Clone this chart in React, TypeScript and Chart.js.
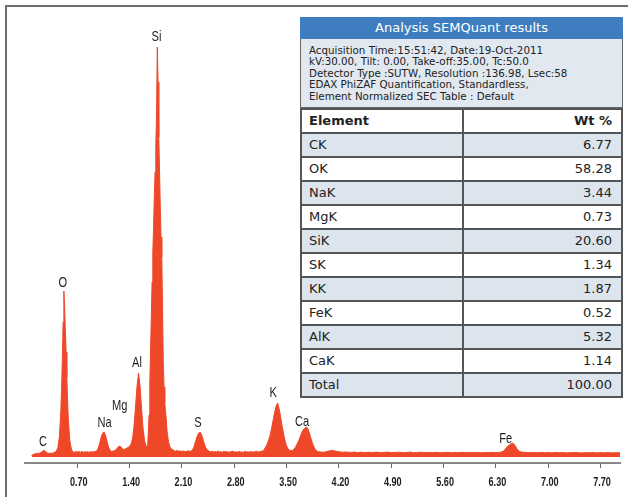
import React, { useEffect, useRef } from 'react';
import { Chart, registerables } from 'chart.js';

Chart.register(...registerables);

// Spectrum: [energy keV, counts]
const SPECTRUM: [number, number][] = [
  [0.09, 10], [0.10, 22], [0.12, 28], [0.14, 34], [0.16, 38], [0.18, 33], [0.20, 42], [0.22, 48], [0.24, 62], [0.26, 66],
  [0.28, 52], [0.30, 40], [0.32, 36], [0.34, 40], [0.36, 35], [0.38, 42], [0.40, 48],
  [0.42, 60], [0.44, 95], [0.46, 200], [0.48, 470], [0.49, 700], [0.50, 1000], [0.51, 1350], [0.52, 1660], [0.53, 1500],
  [0.54, 1250], [0.55, 1050], [0.56, 800], [0.57, 560], [0.58, 370], [0.60, 160], [0.62, 80], [0.64, 52],
  [0.66, 45], [0.67, 52], [0.68, 55], [0.70, 48], [0.71, 56], [0.72, 53], [0.74, 45], [0.75, 51], [0.76, 56], [0.78, 50],
  [0.79, 46], [0.80, 55], [0.82, 47], [0.83, 54], [0.84, 52], [0.86, 46], [0.87, 51], [0.88, 55], [0.90, 50], [0.92, 53],
  [0.94, 55], [0.96, 62], [0.98, 90], [1.00, 140], [1.02, 200], [1.04, 240], [1.06, 250], [1.08, 210], [1.10, 150],
  [1.12, 95], [1.14, 66],
  [1.16, 56], [1.18, 60], [1.20, 64], [1.22, 76], [1.24, 95], [1.26, 110], [1.28, 104], [1.30, 86], [1.32, 74], [1.34, 80],
  [1.36, 88],
  [1.38, 95], [1.40, 110], [1.42, 130], [1.44, 190], [1.46, 320], [1.48, 520], [1.50, 720], [1.52, 840], [1.54, 700],
  [1.56, 480], [1.58, 280], [1.60, 160], [1.62, 110], [1.64, 100],
  [1.65, 250], [1.66, 420], [1.67, 750], [1.68, 1080], [1.69, 1400], [1.70, 1750], [1.71, 2050], [1.72, 2300], [1.73, 2600],
  [1.74, 2850], [1.75, 3100], [1.76, 3450], [1.77, 4100], [1.78, 3750], [1.79, 3200], [1.80, 2850], [1.81, 2500],
  [1.82, 2200], [1.83, 2000], [1.84, 1500], [1.85, 950], [1.86, 700], [1.87, 550], [1.88, 450], [1.89, 380], [1.90, 260],
  [1.92, 150], [1.94, 100], [1.96, 80],
  [1.98, 70], [2.00, 65], [2.01, 58], [2.02, 60], [2.04, 66], [2.05, 59], [2.06, 58], [2.08, 62], [2.09, 54], [2.10, 55],
  [2.12, 61], [2.13, 55], [2.14, 57], [2.16, 55], [2.17, 60], [2.18, 62], [2.20, 58],
  [2.22, 58], [2.24, 70], [2.26, 100], [2.28, 150], [2.30, 200], [2.32, 235], [2.34, 250], [2.36, 230], [2.38, 180],
  [2.40, 130], [2.42, 90], [2.44, 70], [2.46, 60],
  [2.48, 52], [2.50, 57], [2.52, 50], [2.54, 54], [2.56, 49], [2.58, 60], [2.60, 53], [2.62, 52], [2.64, 47], [2.66, 58],
  [2.68, 51], [2.70, 54], [2.72, 48], [2.74, 50], [2.76, 55], [2.78, 57], [2.80, 49], [2.82, 52], [2.84, 47], [2.86, 55],
  [2.88, 51], [2.90, 50], [2.92, 46], [2.94, 57], [2.96, 50], [2.98, 52], [3.00, 48], [3.02, 55], [3.04, 51], [3.06, 50],
  [3.08, 56], [3.10, 56], [3.12, 50], [3.14, 53], [3.16, 58], [3.18, 60],
  [3.20, 75], [3.22, 100], [3.24, 130], [3.26, 170], [3.28, 220], [3.30, 290], [3.32, 370], [3.34, 450], [3.36, 510],
  [3.38, 540], [3.40, 480], [3.42, 400], [3.44, 310], [3.46, 230], [3.48, 160], [3.50, 110], [3.52, 80], [3.54, 68],
  [3.56, 64],
  [3.58, 66], [3.60, 80], [3.62, 100], [3.64, 130], [3.66, 160], [3.68, 200], [3.70, 240], [3.72, 270], [3.74, 285],
  [3.76, 300], [3.78, 290], [3.80, 250], [3.82, 200], [3.84, 150], [3.86, 110], [3.88, 80], [3.90, 62], [3.92, 52],
  [3.96, 50], [4.00, 48], [4.04, 55], [4.08, 62], [4.12, 66], [4.16, 58], [4.20, 52], [4.25, 48], [4.30, 50], [4.35, 46],
  [4.40, 49], [4.45, 45], [4.50, 48], [4.55, 44], [4.60, 48], [4.65, 45], [4.70, 49], [4.75, 44], [4.80, 46], [4.85, 49],
  [4.90, 44], [4.95, 46], [5.00, 48], [5.05, 44], [5.10, 46], [5.15, 49], [5.20, 43], [5.25, 46], [5.30, 48], [5.35, 44],
  [5.40, 46], [5.45, 44], [5.50, 47], [5.55, 43], [5.60, 45], [5.65, 47], [5.70, 43], [5.75, 46], [5.80, 44], [5.85, 47],
  [5.90, 43], [5.95, 45], [6.00, 44], [6.05, 46], [6.10, 42], [6.15, 45], [6.20, 44], [6.25, 46], [6.30, 44], [6.34, 46],
  [6.36, 48], [6.38, 52], [6.40, 60], [6.42, 72], [6.44, 95], [6.46, 110], [6.48, 120], [6.50, 130], [6.52, 140],
  [6.54, 130], [6.56, 110], [6.58, 85], [6.60, 66], [6.62, 55], [6.64, 50],
  [6.68, 47], [6.72, 45], [6.76, 43], [6.80, 46], [6.85, 42], [6.90, 45], [6.95, 43], [7.00, 44], [7.05, 42], [7.10, 46],
  [7.15, 43], [7.20, 44], [7.25, 41], [7.30, 44], [7.35, 46], [7.40, 43], [7.45, 41], [7.50, 44], [7.55, 42], [7.60, 45],
  [7.65, 41], [7.70, 44], [7.75, 42], [7.80, 44], [7.85, 41], [7.90, 43], [7.96, 42],
];

const TICK_VALUES = [0.7, 1.4, 2.1, 2.8, 3.5, 4.2, 4.9, 5.6, 6.3, 7.0, 7.7];

const PEAK_NAMES = ['C', 'O', 'Na', 'Mg', 'Al', 'Si', 'S', 'K', 'Ca', 'Fe'];
const PEAK_LABEL_KEV = [0.24, 0.507, 1.066, 1.266, 1.498, 1.758, 2.315, 3.319, 3.707, 6.43];
const PEAK_LABEL_COUNTS = [153, 1743, 337, 513, 937, 4203, 343, 637, 353, 180];

const TABLE_TITLE = 'Analysis SEMQuant results';
const INFO_LINES = [
  'Acquisition Time:15:51:42, Date:19-Oct-2011',
  'kV:30.00, Tilt: 0.00, Take-off:35.00, Tc:50.0',
  'Detector Type :SUTW, Resolution :136.98, Lsec:58',
  'EDAX PhiZAF Quantification, Standardless,',
  'Element Normalized SEC Table : Default',
];
const HEADERS = ['Element', 'Wt %'];
const ELEMENTS = ['CK', 'OK', 'NaK', 'MgK', 'SiK', 'SK', 'KK', 'FeK', 'AlK', 'CaK', 'Total'];
const WT_PCT = ['6.77', '58.28', '3.44', '0.73', '20.60', '1.34', '1.87', '0.52', '5.32', '1.14', '100.00'];

const RED = 'rgb(239, 72, 40)';
const SANS = "'Liberation Sans', Arial, sans-serif";
const TABLE_FONT = "'DejaVu Sans', Verdana, sans-serif";

export default function App() {
  const ref = useRef<HTMLCanvasElement>(null);

  useEffect(() => {
    const textPlugin = {
      id: 'condensedText',
      afterDraw(chart: any) {
        const { ctx } = chart;
        const xs = chart.scales.x;
        const ys = chart.scales.y;
        ctx.save();
        ctx.fillStyle = '#1e1e1e';
        ctx.textAlign = 'center';
        ctx.textBaseline = 'middle';
        // peak labels
        ctx.font = `15px ${SANS}`;
        PEAK_NAMES.forEach((n, i) => {
          const px = xs.getPixelForValue(PEAK_LABEL_KEV[i]);
          const py = ys.getPixelForValue(PEAK_LABEL_COUNTS[i]);
          ctx.save();
          ctx.translate(px, py);
          ctx.scale(0.74, 1);
          ctx.fillText(n, 0, 0);
          ctx.restore();
        });
        // tick labels
        ctx.font = `bold 13px ${SANS}`;
        xs.ticks.forEach((t: any) => {
          const px = xs.getPixelForValue(t.value) + 1.5;
          ctx.save();
          ctx.translate(px, xs.top + 19.5);
          ctx.scale(0.7, 1);
          ctx.fillText(Number(t.value).toFixed(2), 0, 0);
          ctx.restore();
        });
        ctx.restore();
      },
    };

    const chart = new Chart(ref.current as HTMLCanvasElement, {
      type: 'line',
      data: {
        datasets: [
          {
            data: SPECTRUM.map(([e, c]) => ({ x: e, y: c })),
            borderColor: RED,
            backgroundColor: RED,
            borderWidth: 1,
            pointRadius: 0,
            fill: 'origin',
            tension: 0,
          },
        ],
      },
      options: {
        responsive: false,
        animation: false,
        devicePixelRatio: 1,
        layout: { padding: { left: 25, right: 8, top: 20, bottom: 0 } },
        plugins: { legend: { display: false }, tooltip: { enabled: false }, title: { display: false } },
        scales: {
          x: {
            type: 'linear',
            min: 0,
            max: 7.96,
            afterBuildTicks: (s: any) => {
              s.ticks = TICK_VALUES.map((v) => ({ value: v }));
            },
            afterFit: (s: any) => {
              s.height = 34;
            },
            ticks: { display: false, autoSkip: false, maxRotation: 0 },
            grid: { drawOnChartArea: false, drawTicks: true, tickLength: 5, color: '#666', lineWidth: 1 },
            border: { display: true, color: '#888', width: 2 },
          },
          y: { display: false, min: -60, max: 4370 },
        },
      } as any,
      plugins: [textPlugin],
    });
    return () => chart.destroy();
  }, []);

  const rowStyle = (i: number): React.CSSProperties => ({
    display: 'flex',
    height: 24,
    boxSizing: 'border-box',
    borderBottom: '2px solid #555',
    background: i % 2 === 1 ? '#dce4ed' : '#ffffff',
  });
  const leftCell: React.CSSProperties = {
    width: 162,
    boxSizing: 'border-box',
    borderRight: '2px solid #555',
    paddingLeft: 7,
    lineHeight: '22px',
  };
  const rightCell: React.CSSProperties = {
    flex: 1,
    textAlign: 'right',
    paddingRight: 9,
    lineHeight: '22px',
  };

  return (
    <div style={{ position: 'absolute', left: 0, top: 0, width: 628, height: 497, background: '#fff', overflow: 'hidden' }}>
      <canvas ref={ref} width={628} height={497} style={{ position: 'absolute', left: 0, top: 0, display: 'block' }} />
      <div style={{ position: 'absolute', left: 5, top: 5, width: 623, height: 2, background: '#6e6e6e' }} />
      <div style={{ position: 'absolute', left: 5, top: 5, width: 2, height: 492, background: '#6e6e6e' }} />
      <div
        style={{
          position: 'absolute',
          left: 300,
          top: 17,
          width: 323,
          fontFamily: TABLE_FONT,
          color: '#222',
        }}
      >
        <div
          style={{
            height: 22,
            background: 'rgb(62, 126, 192)',
            color: '#fff',
            textAlign: 'center',
            fontSize: 13,
            lineHeight: '22px',
          }}
        >
          {TABLE_TITLE}
        </div>
        <div
          style={{
            height: 69,
            boxSizing: 'border-box',
            background: '#e1e8f0',
            border: '1px solid #666',
            borderTop: 'none',
            padding: '6px 8px 0 8px',
            fontSize: 10.3,
            lineHeight: '11.4px',
            whiteSpace: 'nowrap',
          }}
        >
          {INFO_LINES.map((l, i) => (
            <div key={i}>{l}</div>
          ))}
        </div>
        <div style={{ borderLeft: '2px solid #555', borderRight: '2px solid #555', borderTop: '2px solid #555', fontSize: 13 }}>
          <div style={{ ...rowStyle(0), fontWeight: 'bold' }}>
            <div style={leftCell}>{HEADERS[0]}</div>
            <div style={rightCell}>{HEADERS[1]}</div>
          </div>
          {ELEMENTS.map((el, i) => (
            <div key={el} style={rowStyle(i + 1)}>
              <div style={leftCell}>{el}</div>
              <div style={rightCell}>{WT_PCT[i]}</div>
            </div>
          ))}
        </div>
      </div>
    </div>
  );
}
